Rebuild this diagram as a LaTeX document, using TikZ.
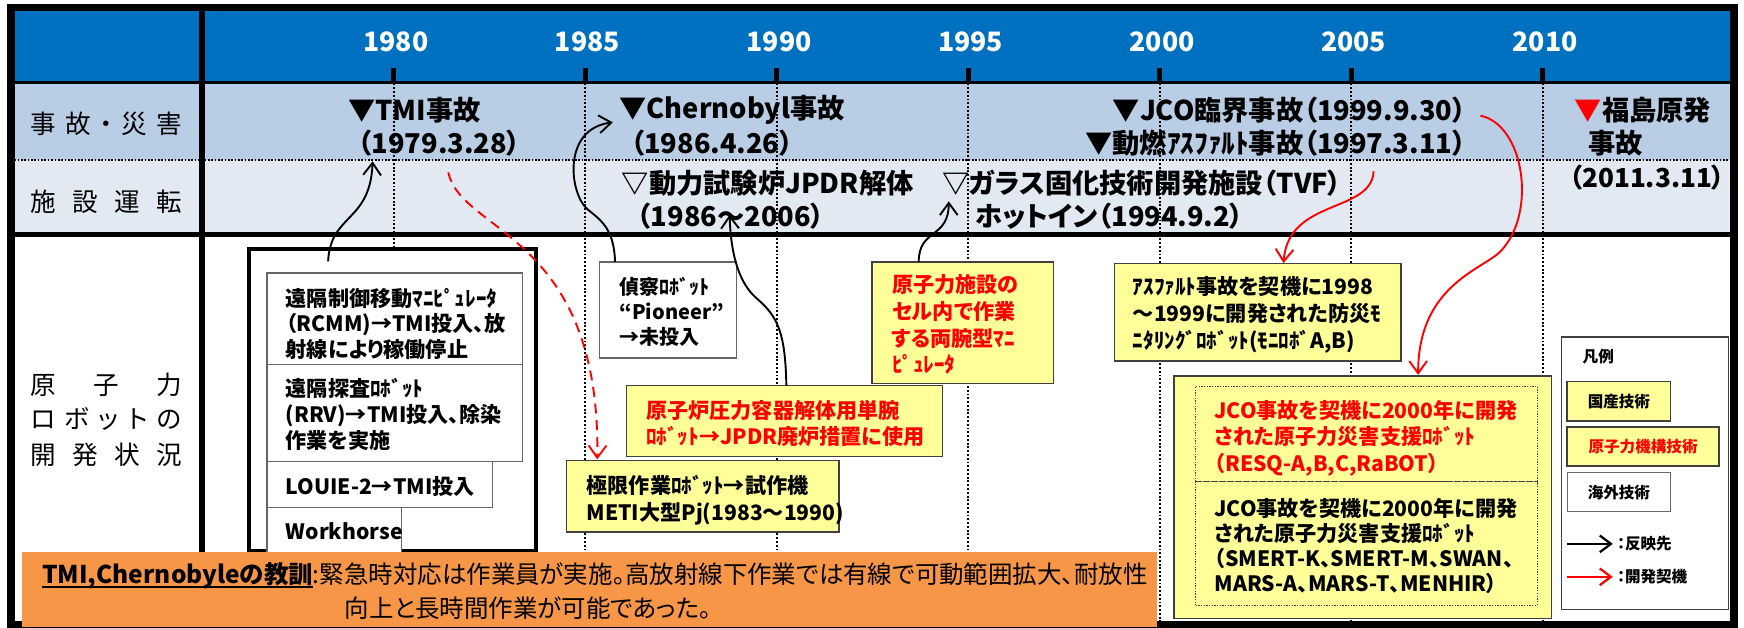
\documentclass[tikz,border=0pt]{standalone}
\usepackage{fontspec}
\setmainfont{Noto Sans CJK JP}[RawFeature=+palt]
\usetikzlibrary{arrows.meta}
\definecolor{hdr}{HTML}{0070C0}
\definecolor{rowa}{HTML}{B9CDE5}
\definecolor{rowb}{HTML}{E3E9F3}
\definecolor{ylw}{HTML}{FFFF99}
\definecolor{org}{HTML}{F79646}
\definecolor{rd}{HTML}{FF0000}
\definecolor{bxedge}{HTML}{404040}
\newcommand\fsz[2]{\fontsize{#1}{#2}\selectfont}
\begin{document}
\begin{tikzpicture}[x=1pt,y=-1pt,
  every node/.style={inner sep=0pt, outer sep=0pt},
  yrlbl/.style={font={\fsz{24}{28}\bfseries}, text=white},
  collbl/.style={font={\fsz{23}{28}}},
  ev/.style={font={\fsz{24.5}{30}\bfseries}, anchor=west},
  bt/.style={font={\fsz{19}{24}\bfseries}, anchor=west, align=left},
  wbox/.style={draw=bxedge!80, fill=white, line width=1.2pt, anchor=north west},
  ybox/.style={draw=bxedge, fill=ylw, line width=1.3pt, anchor=north west},
  cellbox/.style={draw=bxedge, line width=0.8pt, dash pattern=on 1.2pt off 1.2pt, anchor=north west},
  tl/.style={line width=1.7pt, dash pattern=on 1.7pt off 1.7pt},
  barr/.style={line width=1.7pt, -{Straight Barb[length=11pt,width=16pt]}},
  rarr/.style={barr, draw=rd},
  legtxt/.style={font={\fsz{14}{17}\bfseries}}
]
\useasboundingbox (0,0) rectangle (1568,564);
% row backgrounds
\fill[hdr] (13,10) rectangle (1556,74);
\fill[rowa] (13,74) rectangle (1556,144);
\fill[rowb] (13,144) rectangle (1556,211);
\fill[white] (13,211) rectangle (1556,559);
% timeline
\foreach \i in {0,...,6} {
  \pgfmathsetmacro\tx{354+172.2*\i}
  \draw[tl] (\tx,75) -- (\tx,558);
  \draw[line width=4.5pt] (\tx,61) -- (\tx,74);
}
\foreach \yr [count=\i from 0] in {1980,1985,1990,1995,2000,2005,2010} {
  \pgfmathsetmacro\tx{356+172.2*\i}
  \node[yrlbl] (y\yr) at (\tx,37.5) {\yr};
}
% dividers
\draw[line width=3pt] (13,74) -- (1556,74);
\draw[tl, line width=1.5pt, dash pattern=on 1.5pt off 1.5pt] (13,144) -- (1556,144);
\draw[line width=4pt] (13,211) -- (1556,211);
\draw[line width=5pt] (181.5,10) -- (181.5,559);
% left column labels
\node[collbl] (cl1) at (95.5,111) {\makebox[136pt]{事\hfill 故\hfill ・\hfill 災\hfill 害}};
\node[collbl] (cl2) at (95.5,181) {\makebox[136pt]{施\hfill 設\hfill 運\hfill 転}};
\node[collbl] (cl3) at (95.5,346) {\makebox[136pt]{原\hfill 子\hfill 力}};
\node[collbl] (cl4) at (95.5,377) {\makebox[136pt]{ロ\hfill ボ\hfill ッ\hfill ト\hfill の}};
\node[collbl] (cl5) at (95.5,409) {\makebox[136pt]{開\hfill 発\hfill 状\hfill 況}};
% events
\node[ev] (tmi) at (313,99) {▼TMI事故};
\node[ev] (tmid) at (322,129) {（1979.3.28）};
\node[ev] (cher) at (557,99) {▼Chernobyl事故};
\node[ev] (cherd) at (567,129) {（1986.4.26）};
\node[ev, anchor=east] (jco) at (1318,99) {▼JCO臨界事故（1999.9.30）};
\node[ev, anchor=east] (pnc) at (1318,129) {▼動燃ｱｽﾌｧﾙﾄ事故（1997.3.11）};
\node[ev] (fk) at (1416,99) {{\color{rd}▼}福島原発};
\node[ev] (fk2) at (1428,129) {事故};
\node[ev, anchor=east, font={\fsz{23.5}{30}\bfseries}] (fkd) at (1551,160) {（2011.3.11）};
\node[ev] (jpdr) at (559,165) {▽動力試験炉JPDR解体};
\node[ev] (jpdrd) at (573,194) {（1986～2006）};
\node[ev] (tvf) at (847,165) {▽ガラス固化技術開発施設（TVF）};
\node[ev] (tvfd) at (877,194) {ホットイン（1994.9.2）};
% TMI robots
\node[draw=black, line width=3pt, fill=white, anchor=north west, minimum width=258pt, minimum height=271pt] (tmibox) at (224,224) {};
\node[wbox, minimum width=230pt, minimum height=82pt] (rA) at (240,245.5) {};
\node[wbox, minimum width=230pt, minimum height=87.5pt] (rB) at (240,327.5) {};
\node[wbox, minimum width=203pt, minimum height=41pt] (rC) at (240,415) {};
\node[wbox, minimum width=121pt, minimum height=50pt] (rD) at (240,456) {};
\node[bt, font={\fsz{19}{23}\bfseries}] (rAt) at (257,291) {遠隔制御移動ﾏﾆﾋﾟｭﾚｰﾀ\\（RCMM)→TMI投入、放\\射線により稼働停止};
\node[bt, font={\fsz{19}{23.5}\bfseries}] (rBt) at (257,372.5) {遠隔探査ﾛﾎﾞｯﾄ\\(RRV)→TMI投入、除染\\作業を実施};
\node[bt] (rCt) at (257,437) {LOUIE-2→TMI投入};
\node[bt] (rDt) at (257,478) {Workhorse};
% other boxes
\node[wbox, minimum width=123pt, minimum height=86.5pt] (scout) at (539,235.5) {};
\node[bt, font={\fsz{18}{22.5}\bfseries}] (scoutt) at (557,280.5) {偵察ﾛﾎﾞｯﾄ\\“Pioneer”\\→未投入};
\node[ybox, minimum width=163pt, minimum height=109.5pt] (cell) at (784,235.5) {};
\node[bt, text=rd] (cellt) at (802,292) {原子力施設の\\セル内で作業\\する両腕型ﾏﾆ\\ﾋﾟｭﾚｰﾀ};
\node[ybox, minimum width=284pt, minimum height=63.5pt] (arm) at (563.4,346.7) {};
\node[bt, text=rd] (armt) at (581,380.6) {原子炉圧力容器解体用単腕\\ﾛﾎﾞｯﾄ→JPDR廃炉措置に使用};
\node[ybox, minimum width=245pt, minimum height=64.5pt] (ext) at (509.4,414) {};
\node[bt] (extt) at (527.4,449.5) {極限作業ﾛﾎﾞｯﾄ→試作機\\METI大型Pj(1983～1990)};
\node[ybox, minimum width=257.5pt, minimum height=87.5pt] (asph) at (1002,237) {};
\node[bt] (aspht) at (1018.6,283) {ｱｽﾌｧﾙﾄ事故を契機に1998\\～1999に開発された防災ﾓ\\ﾆﾀﾘﾝｸﾞﾛﾎﾞｯﾄ(ﾓﾆﾛﾎﾞA,B)};
\node[ybox, minimum width=339.5pt, minimum height=218pt] (jcobox) at (1055.5,338) {};
\node[cellbox, minimum width=307pt, minimum height=86pt] (jcoA) at (1075,347) {};
\node[cellbox, minimum width=307pt, minimum height=111pt] (jcoB) at (1075,433) {};
\node[bt, text=rd] (jcoAt) at (1092,394) {JCO事故を契機に2000年に開発\\された原子力災害支援ﾛﾎﾞｯﾄ\\（RESQ-A,B,C,RaBOT）};
\node[bt, font={\fsz{19}{22.5}\bfseries}] (jcoBt) at (1092,490.5) {JCO事故を契機に2000年に開発\\された原子力災害支援ﾛﾎﾞｯﾄ\\（SMERT-K、SMERT-M、SWAN、\\MARS-A、MARS-T、MENHIR）};
% legend
\node[draw=bxedge, line width=1.5pt, fill=white, anchor=north west, minimum width=150pt, minimum height=245pt] (leg) at (1404,303) {};
\node[legtxt, anchor=west] (legt) at (1423,321) {凡例};
\node[ybox, legtxt, minimum width=93pt, minimum height=35.5pt] (leg1) at (1409,343) {国産技術};
\node[ybox, legtxt, text=rd, minimum width=136.5pt, minimum height=35pt] (leg2) at (1409,384) {原子力機構技術};
\node[wbox, legtxt, minimum width=93pt, minimum height=35pt] (leg3) at (1409,425) {海外技術};
\coordinate (lb0) at (1409,489); \coordinate (lb1) at (1450,489);
\coordinate (lr0) at (1409,518.6); \coordinate (lr1) at (1450,518.6);
\draw[line width=2pt, -{Straight Barb[length=10pt,width=15pt]}] (lb0) -- (lb1);
\draw[line width=2pt, draw=rd, -{Straight Barb[length=10pt,width=15pt]}] (lr0) -- (lr1);
\node[legtxt, anchor=west] (lbt) at (1454,489) {：反映先};
\node[legtxt, anchor=west] (lrt) at (1454,518.6) {：開発契機};
% connectors
\coordinate (a0) at (295,235); \coordinate (a1) at (335,145);
\draw[barr] (a0) .. controls (297,192) and (333,200) .. (a1);
\coordinate (b0) at (553,235.5); \coordinate (b1) at (551,110);
\draw[barr] (b0) .. controls (552,205) and (540,198) .. (528,188) .. controls (512,174) and (505,116) .. (b1);
\coordinate (c0) at (707,346.7); \coordinate (c1) at (656,193);
\draw[barr] (c0) .. controls (706,300) and (700,285) .. (680,268) .. controls (665,255) and (657,230) .. (c1);
\coordinate (d0) at (826,235.5); \coordinate (d1) at (853,181);
\draw[barr] (d0) .. controls (826,205) and (853,215) .. (d1);
\coordinate (e0) at (403,155); \coordinate (e1) at (537,413);
\draw[rarr, dash pattern=on 9pt off 6pt] (e0) .. controls (415,210) and (540,210) .. (e1);
\coordinate (f0) at (1331,104); \coordinate (f1) at (1275,337);
\draw[rarr] (f0) .. controls (1370,112) and (1382,190) .. (1350,225) .. controls (1335,242) and (1275,255) .. (f1);
\coordinate (g0) at (1235,154); \coordinate (g1) at (1154,236.5);
\draw[rarr] (g0) .. controls (1233,192) and (1158,178) .. (g1);
% frame
\draw[line width=6.5pt] (9.8,6.8) rectangle (1559,561.5);
% lesson box
\node[fill=org, anchor=north west, minimum width=1020.4pt, minimum height=68pt] (lesson) at (19.6,496) {};
\node[font={\fsz{22}{30}\bfseries}, anchor=base west] (lsn) at (38,525) {TMI,Chernobyleの教訓};
\draw[line width=1.6pt] ([yshift=-3pt]lsn.base west) -- ([yshift=-3pt]lsn.base east);
\node[font={\fsz{22}{30}}, anchor=base west] (lsn2) at (lsn.base east) {:緊急時対応は作業員が実施。高放射線下作業では有線で可動範囲拡大、耐放性};
\node[font={\fsz{22}{30}}, anchor=base west] (lsn3) at (310,555) {向上と長時間作業が可能であった。};
\end{tikzpicture}
\end{document}
